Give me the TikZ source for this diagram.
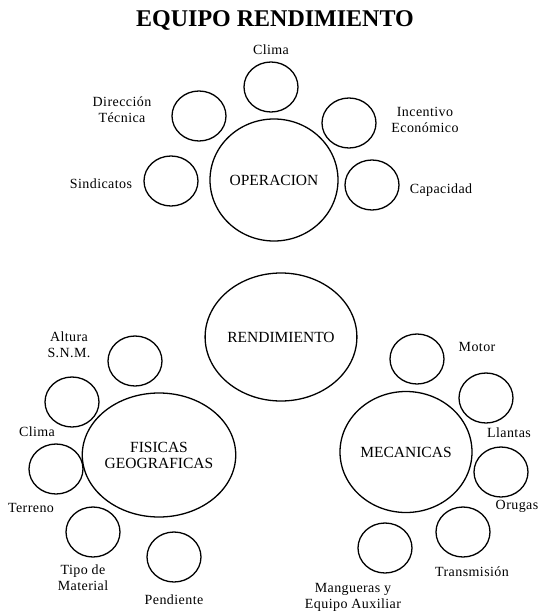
\documentclass[tikz,border=0pt]{standalone}
\usepackage{fontspec}
\setmainfont{Liberation Serif}
\newfontfamily\lblfont[LetterSpace=3]{Liberation Serif}
\usetikzlibrary{shapes.geometric}

\begin{document}
\begin{tikzpicture}[x=1pt, y=-1pt,
		small/.style = {draw, line width=1.3pt, ellipse, minimum width = 54pt, minimum height = 50pt, inner sep = 0pt},
		big/.style = {draw, line width=1.3pt, ellipse, minimum width = 128pt, minimum height = 122pt, inner sep = 0pt, align = center, font = \fontsize{15.5}{16}\selectfont},
		lbl/.style = {align = center, inner sep = 0pt, font = \lblfont\fontsize{14}{16}\selectfont}]
		\useasboundingbox (0, 0) rectangle (540, 613);

		\node (title) [font = \fontsize{24}{26}\selectfont\bfseries] at (275, 20) {EQUIPO RENDIMIENTO};

		% operacion
		\node (oper) [big] at (274, 180) {OPERACION};
		\node (oclima) [small] at (271, 87) {};
		\node (odir) [small] at (199, 116) {};
		\node (oinc) [small] at (349, 123) {};
		\node (osin) [small] at (171, 181) {};
		\node (ocap) [small] at (372, 185) {};
		\node (loclima) [lbl] at (271, 50) {Clima};
		\node (lodir) [lbl] at (122, 110) {Dirección\\Técnica};
		\node (loinc) [lbl] at (425, 120) {Incentivo\\Económico};
		\node (losin) [lbl] at (101, 184) {Sindicatos};
		\node (locap) [lbl] at (441, 190) {Capacidad};

		% rendimiento
		\node (rend) [big, minimum width = 128pt, minimum height = 128pt] at (281, 337) {RENDIMIENTO};

		% fisicas geograficas
		\node (fis) [big, minimum height = 124pt] at (159, 455) {FISICAS\\GEOGRAFICAS};
		\node (falt) [small] at (135, 361) {};
		\node (fclima) [small] at (72, 402) {};
		\node (fter) [small] at (56, 469) {};
		\node (ftipo) [small] at (93, 532) {};
		\node (fpen) [small] at (174, 557) {};
		\node (lfalt) [lbl] at (69, 345) {Altura\\S.N.M.};
		\node (lfclima) [lbl] at (37, 432) {Clima};
		\node (lfter) [lbl] at (31, 508) {Terreno};
		\node (lftipo) [lbl] at (83, 578) {Tipo de\\Material};
		\node (lfpen) [lbl] at (174, 600) {Pendiente};

		% mecanicas
		\node (mec) [big, minimum width = 132pt, minimum height = 121pt] at (406, 452) {MECANICAS};
		\node (mmot) [small] at (417, 359) {};
		\node (mlla) [small] at (486, 398) {};
		\node (moru) [small] at (501, 472) {};
		\node (mtra) [small] at (463, 532) {};
		\node (mman) [small] at (385, 548) {};
		\node (lmmot) [lbl] at (477, 347) {Motor};
		\node (lmlla) [lbl] at (509, 433) {Llantas};
		\node (lmoru) [lbl] at (517, 506) {Orugas};
		\node (lmtra) [lbl] at (472, 572) {Transmisión};
		\node (lmman) [lbl] at (353, 597) {Mangueras y\\Equipo Auxiliar};
	\end{tikzpicture}
\end{document}
